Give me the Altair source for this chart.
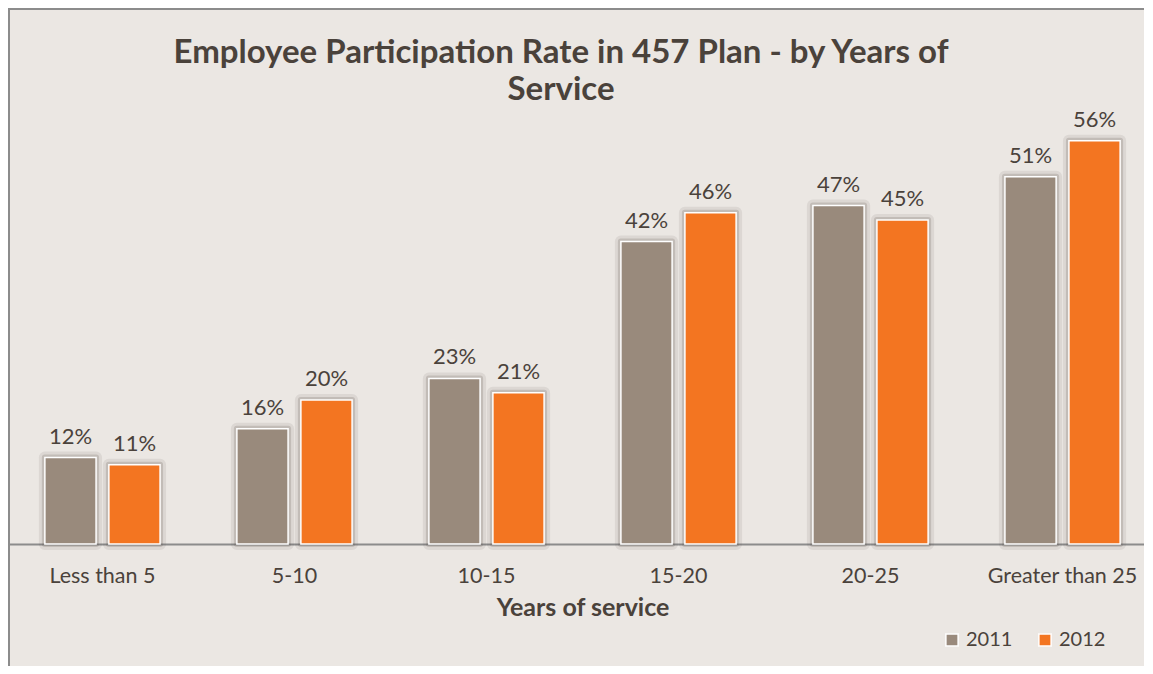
import altair as alt
import pandas as pd

categories = ["Less than 5", "5-10", "10-15", "15-20", "20-25", "Greater than 25"]
years = ["2011", "2012"]
v2011 = [12, 16, 23, 42, 47, 51]
v2012 = [11, 20, 21, 46, 45, 56]
colors = ["#998A7C", "#F37521"]
title_lines = ["Employee Participation Rate in 457 Plan - by Years of", "Service"]

rows = []
for c, a, b in zip(categories, v2011, v2012):
    rows.append({"cat": c, "year": "2011", "value": a})
    rows.append({"cat": c, "year": "2012", "value": b})
df = pd.DataFrame(rows)

FONT = "Lato"
TXT = "#4A423B"
W, H = 1136, 432

x = alt.X("cat:N", sort=categories,
          scale=alt.Scale(paddingInner=0.4, paddingOuter=0.192, range=[0, 1149]),
          axis=alt.Axis(title="Years of service", labelAngle=0, labelFontSize=21.5,
                        labelFont=FONT, labelColor=TXT, labelPadding=21, ticks=False,
                        domainColor="#8C8C8C", domainWidth=2,
                        titleFont=FONT, titleFontSize=25, titleFontWeight="bold",
                        titleColor=TXT, titlePadding=9))
xo = alt.XOffset("year:N", sort=years, scale=alt.Scale(paddingInner=0.2))
y = alt.Y("value:Q", scale=alt.Scale(domain=[0, 60]), axis=None)

base = alt.Chart(df)

shadow1 = base.mark_bar(fill="#5a524b", fillOpacity=0.0, stroke="#5a524b",
                        strokeOpacity=0.10, strokeWidth=12, strokeJoin="round").encode(
    x=x, xOffset=xo, y=y)
shadow2 = base.mark_bar(fill="#5a524b", fillOpacity=0.0, stroke="#5a524b",
                        strokeOpacity=0.20, strokeWidth=6, strokeJoin="round").encode(
    x=x, xOffset=xo, y=y)

bars = base.mark_bar(stroke="white", strokeWidth=1.5).encode(
    x=x, xOffset=xo, y=y,
    color=alt.Color("year:N", sort=years,
                    scale=alt.Scale(domain=years, range=colors),
                    legend=alt.Legend(title=None, orient="none", direction="horizontal",
                                      legendX=934, legendY=518,
                                      symbolType="square", symbolSize=150,
                                      symbolStrokeColor="white", symbolStrokeWidth=1.5,
                                      labelFont=FONT, labelFontSize=20, labelColor=TXT,
                                      columnPadding=22, labelOffset=4)))

labels = base.transform_calculate(lbl="datum.value + '%'").mark_text(
    dy=-21, fontSize=22, font=FONT, color=TXT).encode(
    x=x, xOffset=xo, y=y, text="lbl:N")

tdf = pd.DataFrame({"line": title_lines, "i": [0, 1]})
title1 = alt.Chart(tdf).transform_filter("datum.i == 0").mark_text(
    font=FONT, fontSize=33, fontWeight="bold", color=TXT, baseline="alphabetic",
    align="center").encode(text="line:N", x=alt.value(553), y=alt.value(-49))
title2 = alt.Chart(tdf).transform_filter("datum.i == 1").mark_text(
    font=FONT, fontSize=33, fontWeight="bold", color=TXT, baseline="alphabetic",
    align="center").encode(text="line:N", x=alt.value(553), y=alt.value(-12))

frame = alt.Chart(pd.DataFrame({"k": [0]})).mark_rect(
    fill=None, stroke="#8C8C8C", strokeWidth=2).encode(
    x=alt.value(1), x2=alt.value(W + 40), y=alt.value(-103), y2=alt.value(H + 160))

chart = alt.layer(frame, shadow1, shadow2, bars, labels, title1, title2).properties(
    width=W, height=H,
    autosize=alt.AutoSizeParams(type="none"),
    padding={"left": 0, "top": 104, "right": 0, "bottom": 122},
    background="#EBE7E3",
).configure_view(stroke=None)

chart.save("out.html", embed_options={"renderer": "svg", "actions": False})
